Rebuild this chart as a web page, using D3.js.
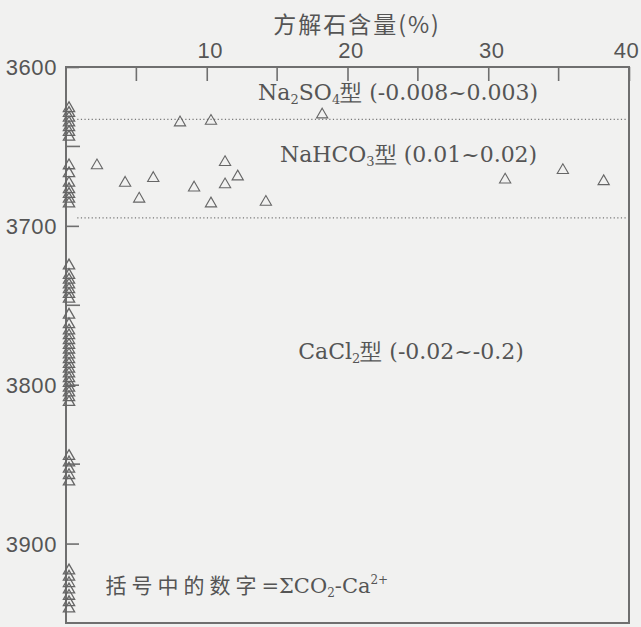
<!DOCTYPE html>
<html>
<head>
<meta charset="utf-8">
<script src="https://cdn.jsdelivr.net/npm/d3@7"></script>
<style>
  html, body { margin: 0; padding: 0; background: #f1f1f0; }
  svg { display: block; }
</style>
</head>
<body>
<svg id="chart" width="641" height="627"></svg>
<script>
// Calcite content (%) vs depth (m); samples with no calcite sit on the depth axis
const scatterCalcite = [8.1, 10.3, 18.2, 2.2, 4.2, 5.2, 6.2, 9.1, 11.3, 11.3, 12.2, 10.3, 14.2, 31.2, 35.3, 38.2];
const scatterDepth   = [3635, 3634, 3630, 3662, 3673, 3683, 3670, 3676, 3660, 3674, 3669, 3686, 3685, 3671, 3665, 3672];

const zeroDepth = [
  3626, 3629, 3632, 3635, 3638, 3641, 3644,
  3662, 3667,
  3673, 3677, 3680, 3683, 3686,
  3725, 3731, 3734, 3737, 3740, 3743, 3746,
  3756, 3762, 3766,
  3769, 3772, 3775, 3778, 3781, 3784, 3787, 3790, 3793, 3796, 3799, 3802, 3805, 3808, 3811,
  3845, 3849, 3853, 3857, 3861,
  3917, 3921, 3925, 3929, 3933, 3937, 3941
];

const xMajorTicks = [10, 20, 30, 40];
const xMinorTicks = [5, 15, 25, 35];
const yMajorTicks = [3600, 3700, 3800, 3900];
const yMinorTicks = [3650, 3750, 3850];

// boundaries between water types (depth, m)
const boundaryDepths = [3633, 3695];

// type labels placed at [calcite %, depth]; parts flagged 1 are subscripts
const typeLabels = [
  { x: 13.65, y: 3621, parts: [["Na", 0], ["2", 1], ["SO", 0], ["4", 1], ["型 (-0.008~0.003)", 0]] },
  { x: 15.2,  y: 3660, parts: [["NaHCO", 0], ["3", 1], ["型 (0.01~0.02)", 0]] },
  { x: 16.5,  y: 3784, parts: [["CaCl", 0], ["2", 1], ["型 (-0.02~-0.2)", 0]] }
];

const svg = d3.select("#chart");
const plotLeft = 66, plotRight = 629, plotTop = 67, plotBottom = 623;
const ink = "#6f6f6f";
const textInk = "#555";

const x = d3.scaleLinear().domain([0, 40]).range([plotLeft, plotRight]);
const y = d3.scaleLinear().domain([3600, 3950]).range([plotTop, plotBottom]);

// title
svg.append("text")
  .attr("x", 357).attr("y", 33)
  .attr("text-anchor", "middle")
  .attr("font-family", "'Noto Sans CJK SC', sans-serif")
  .attr("font-size", 23)
  .attr("letter-spacing", 2)
  .attr("fill", textInk)
  .text("方解石含量(%)");

// frame
svg.append("rect")
  .attr("x", plotLeft).attr("y", plotTop)
  .attr("width", plotRight - plotLeft).attr("height", plotBottom - plotTop)
  .attr("fill", "none").attr("stroke", ink).attr("stroke-width", 2);

// top axis, ticks pointing inward
const topAxis = d3.axisTop(x).tickValues(xMajorTicks).tickSize(-14).tickPadding(9)
  .tickFormat(d3.format("d"));
const gTop = svg.append("g").attr("transform", `translate(0,${plotTop})`).call(topAxis);
gTop.append("g").selectAll("line").data(xMinorTicks).join("line")
  .attr("x1", d => x(d)).attr("x2", d => x(d)).attr("y1", 0).attr("y2", 14);

// left axis, ticks pointing inward
const leftAxis = d3.axisLeft(y).tickValues(yMajorTicks).tickSize(-13).tickPadding(9)
  .tickFormat(d3.format("d"));
const gLeft = svg.append("g").attr("transform", `translate(${plotLeft},0)`).call(leftAxis);
gLeft.append("g").selectAll("line").data(yMinorTicks).join("line")
  .attr("x1", 0).attr("x2", 14).attr("y1", d => y(d)).attr("y2", d => y(d));

[gTop, gLeft].forEach(g => {
  g.select(".domain").remove();
  g.selectAll("line").attr("stroke", ink).attr("stroke-width", 1.6);
  g.selectAll("text")
    .attr("fill", textInk)
    .attr("font-family", "'Liberation Sans', Arial, sans-serif")
    .attr("font-size", 22)
    .attr("letter-spacing", 0.6);
});
gLeft.selectAll(".tick text").attr("dy", "0.36em");
gTop.selectAll(".tick text").attr("dx", d => d === 40 ? -3 : 3);

// type boundaries
svg.append("g").selectAll("line").data(boundaryDepths).join("line")
  .attr("x1", x(0.8)).attr("x2", x(39.8))
  .attr("y1", d => y(d)).attr("y2", d => y(d))
  .attr("stroke", "#777").attr("stroke-width", 1.2)
  .attr("stroke-dasharray", "1.2,2.4");

// markers
const tri = d3.symbol().type(d3.symbolTriangle).size(55);
const marks = svg.append("g").attr("fill", "none").attr("stroke", "#666").attr("stroke-width", 1.1);
marks.selectAll("path.s").data(scatterCalcite).join("path")
  .attr("class", "s")
  .attr("d", tri)
  .attr("transform", (d, i) => `translate(${x(d)},${y(scatterDepth[i])})`);
marks.selectAll("path.z").data(zeroDepth).join("path")
  .attr("class", "z")
  .attr("d", tri)
  .attr("stroke-width", 1.3)
  .attr("transform", d => `translate(${x(0) + 3},${y(d)})`);

// type labels
const serif = "'DejaVu Serif', 'Liberation Serif', serif";
typeLabels.forEach(l => {
  const t = svg.append("text")
    .attr("x", x(l.x)).attr("y", y(l.y))
    .attr("font-family", serif)
    .attr("font-size", 22)
    .attr("fill", textInk);
  l.parts.forEach(([s, sub], i) => {
    const ts = t.append("tspan").text(s);
    if (sub) ts.attr("font-size", 13).attr("dy", 4);
    else if (i > 0) ts.attr("dy", -4);
  });
});

// note
const note = svg.append("text")
  .attr("x", x(2.8)).attr("y", y(3931))
  .attr("font-family", serif)
  .attr("font-size", 21)
  .attr("fill", textInk);
note.append("tspan").attr("letter-spacing", 5).attr("font-family", "'Noto Sans CJK SC', sans-serif").text("括号中的数字");
note.append("tspan").text("=ΣCO");
note.append("tspan").attr("font-size", 12).attr("dy", 4).text("2");
note.append("tspan").attr("dy", -4).text("-Ca");
note.append("tspan").attr("font-size", 12).attr("dy", -9).text("2+");
</script>
</body>
</html>
